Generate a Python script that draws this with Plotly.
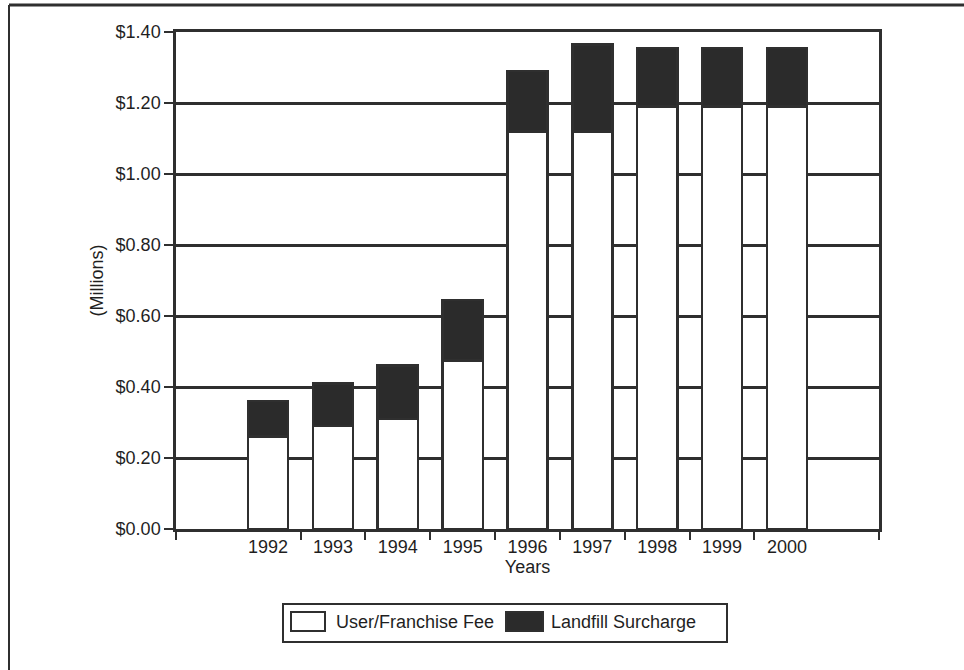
import plotly.graph_objects as go

# Revenue by year, in millions of dollars
years = [1992, 1993, 1994, 1995, 1996, 1997, 1998, 1999, 2000]
user_fee = [0.26, 0.29, 0.31, 0.475, 1.12, 1.12, 1.19, 1.19, 1.19]
landfill_surcharge = [0.10, 0.12, 0.15, 0.17, 0.17, 0.245, 0.165, 0.165, 0.165]
y_ticks = [0.0, 0.2, 0.4, 0.6, 0.8, 1.0, 1.2, 1.4]
series_names = ["User/Franchise Fee", "Landfill Surcharge"]

INK = "#2f2f2f"
TEXT = "#1f1f1f"
FONT = "Liberation Sans, Arial, sans-serif"
FS = 18

fig = go.Figure()
fig.add_trace(go.Bar(
    x=years, y=user_fee, name=series_names[0], width=0.62,
    marker=dict(color="white", line=dict(color=INK, width=2.5)),
))
fig.add_trace(go.Bar(
    x=years, y=landfill_surcharge, name=series_names[1], width=0.62,
    marker=dict(color="#2b2b2b", line=dict(color=INK, width=2.5)),
))

x_lo, x_hi = years[0] - 1.42, years[-1] + 1.42
between = [y + 0.5 for y in years[:-1]]

fig.update_layout(
    barmode="stack",
    width=964, height=670,
    margin=dict(l=176, r=85, t=32, b=141),
    paper_bgcolor="white", plot_bgcolor="white",
    font=dict(family=FONT, size=FS, color=TEXT),
    showlegend=False,
    xaxis=dict(
        range=[x_lo, x_hi], tickvals=years, ticktext=[str(y) for y in years],
        ticks="", showgrid=False, showline=True, linecolor=INK, linewidth=2.5,
        mirror=True, zeroline=False,
        minor=dict(tickvals=[x_lo] + between + [x_hi], ticks="outside",
                   ticklen=8, tickwidth=2, tickcolor=INK, showgrid=False),
        title=dict(text="Years", standoff=3, font=dict(size=FS)),
        tickfont=dict(size=FS),
    ),
    yaxis=dict(
        range=[0, 1.4], tickvals=y_ticks, tickformat="$.2f",
        ticks="outside", ticklen=9, tickwidth=2, tickcolor=INK,
        showgrid=True, gridcolor=INK, gridwidth=2.5,
        showline=True, linecolor=INK, linewidth=2.5, mirror=True, zeroline=False,
        title=dict(text="(Millions)", standoff=8, font=dict(size=FS)),
        tickfont=dict(size=FS),
    ),
)

# Legend box with wide swatches, placed under the axis title
def px_x(p):
    return (p - 176) / 703

def px_y(p):
    return (529 - p) / 497

fig.add_shape(type="rect", xref="paper", yref="paper",
              x0=px_x(283), x1=px_x(727), y0=px_y(604), y1=px_y(642),
              line=dict(color=INK, width=2), fillcolor="white")
fig.add_shape(type="rect", xref="paper", yref="paper",
              x0=px_x(291), x1=px_x(325), y0=px_y(612), y1=px_y(631),
              line=dict(color=INK, width=2), fillcolor="white")
fig.add_shape(type="rect", xref="paper", yref="paper",
              x0=px_x(506), x1=px_x(543), y0=px_y(612), y1=px_y(631),
              line=dict(color=INK, width=2), fillcolor="#2b2b2b")
fig.add_annotation(xref="paper", yref="paper", x=px_x(334), y=px_y(622),
                   text=series_names[0], showarrow=False, xanchor="left",
                   yanchor="middle", font=dict(size=FS, color=TEXT))
fig.add_annotation(xref="paper", yref="paper", x=px_x(549), y=px_y(622),
                   text=series_names[1], showarrow=False, xanchor="left",
                   yanchor="middle", font=dict(size=FS, color=TEXT))

# Outer page frame (top and left edges)
fig.add_shape(type="line", xref="paper", yref="paper",
              x0=px_x(9), x1=px_x(964), y0=px_y(5), y1=px_y(5),
              line=dict(color=INK, width=3))
fig.add_shape(type="line", xref="paper", yref="paper",
              x0=px_x(9), x1=px_x(9), y0=px_y(5), y1=px_y(670),
              line=dict(color=INK, width=2))

fig.write_html("out.html")
